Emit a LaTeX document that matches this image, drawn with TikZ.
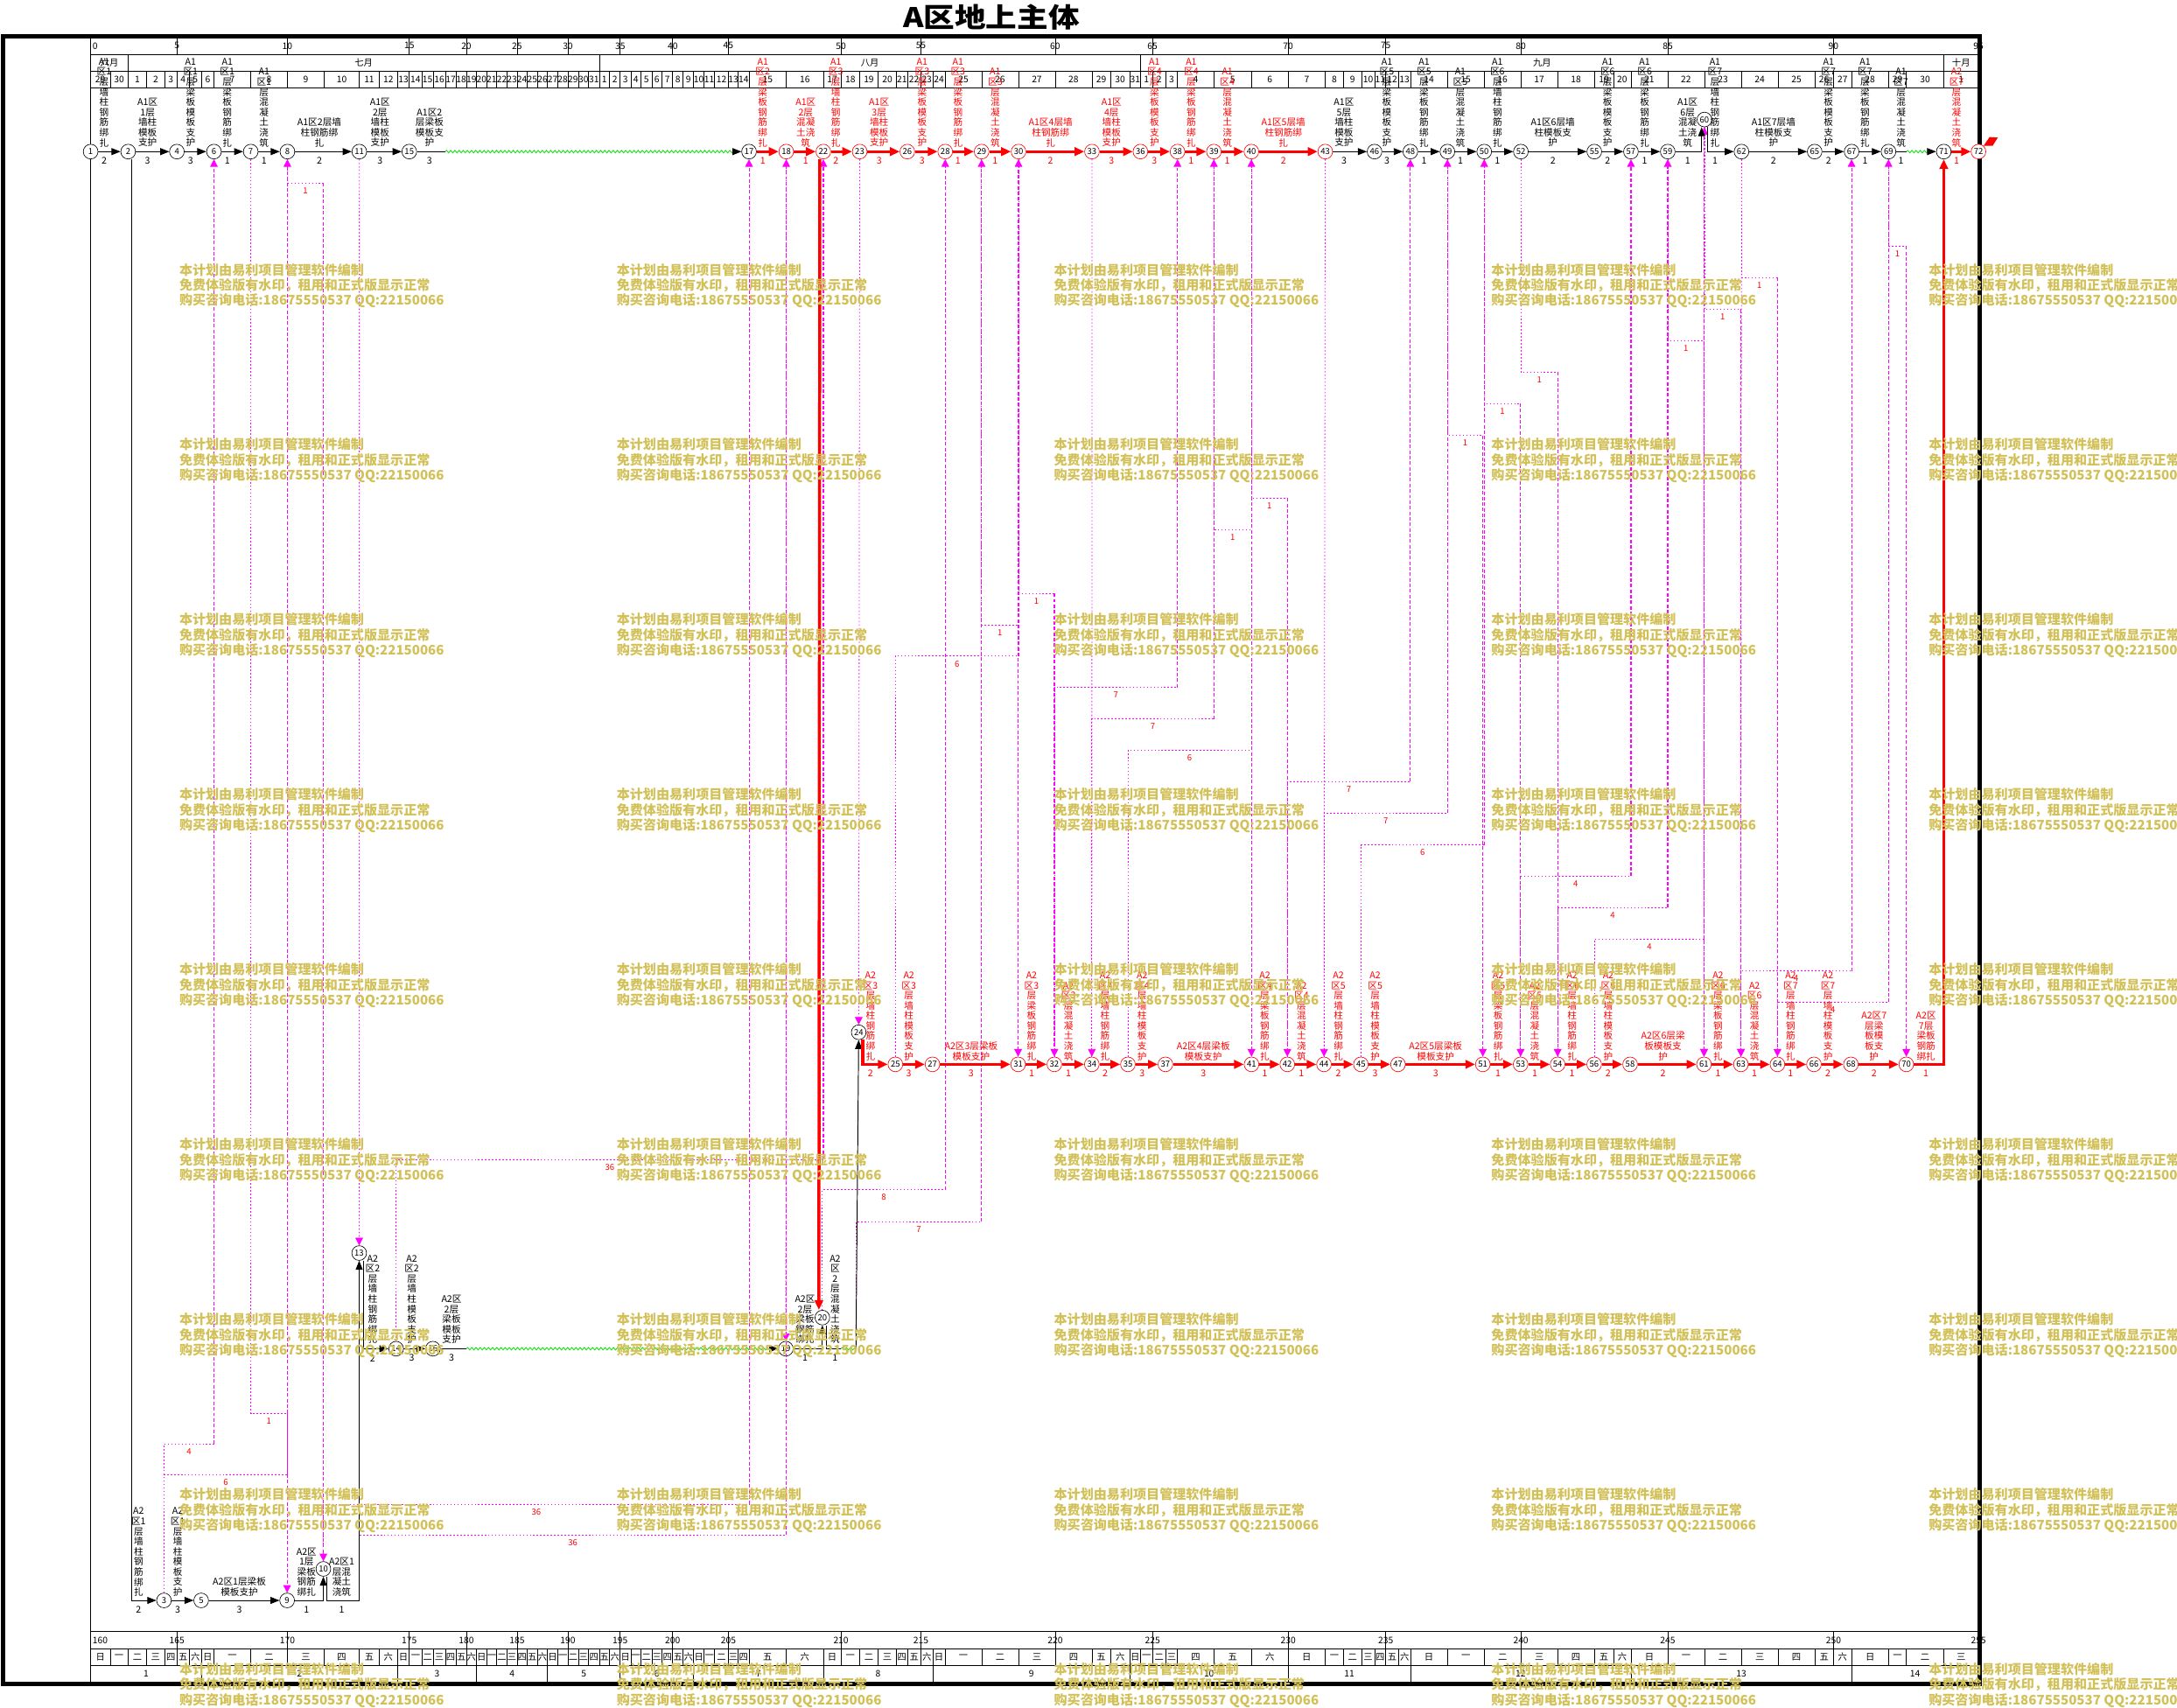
\documentclass[tikz,border=0pt]{standalone}
\usepackage{fontspec}
\setmainfont{Noto Sans CJK SC}
\usetikzlibrary{arrows.meta,decorations.pathmorphing,calc}
\definecolor{wmark}{RGB}{210,192,88}
\definecolor{linkc}{RGB}{255,0,255}
\definecolor{floatc}{RGB}{0,225,0}
% stacked labels, one sign per line
\newcommand{\wallrebar}[2]{A#1\\区#2\\层\\墙\\柱\\钢\\筋\\绑\\扎}
\newcommand{\wallform}[2]{A#1\\区#2\\层\\墙\\柱\\模\\板\\支\\护}
\newcommand{\slabform}[2]{A#1\\区#2\\层\\梁\\板\\模\\板\\支\\护}
\newcommand{\slabrebar}[2]{A#1\\区#2\\层\\梁\\板\\钢\\筋\\绑\\扎}
\newcommand{\concrete}[2]{A#1\\区#2\\层\\混\\凝\\土\\浇\\筑}
\newcommand{\wkname}[1]{\ifcase#1 日\or 一\or 二\or 三\or 四\or 五\or 六\fi}
\newcommand{\wmtext}{本计划由易利项目管理软件编制\\免费体验版有水印，租用和正式版显示正常\\购买咨询电话:18675550537 QQ:22150066}
% logic link: from event #1 via level #2 to event #3, lag #4
\newcommand{\lnk}[4]{
	\draw[srcl] (n#1) -- (n#1 |- 0,#2) -- (n#3 |- 0,#2) node[lag,midway,yshift=-5.5pt] {#4};
	\draw[tgtl] (n#3 |- 0,#2) -- (n#3);
}
\newcommand{\lnkz}[2]{\draw[srcl,-{Triangle[length=5.5pt,width=5.5pt]}] (n#1) -- (n#2);}
\def\dx{{65.3,79.3,92.3,105.5,118.7,127.4,136.4,145.1,154.1,180.6,
207.0,233.5,258.8,273.1,286.4,294.8,303.8,312.2,320.7,328.6,
335.9,343.2,350.5,357.8,365.1,372.4,379.7,387.1,394.4,401.7,
409.0,416.5,424.0,431.6,439.1,446.7,454.3,461.8,469.4,476.9,
484.5,492.0,499.6,507.1,514.7,524.6,531.7,539.5,566.3,593.0,
605.7,619.2,632.4,645.7,653.5,663.3,671.8,680.8,707.0,733.6,
760.0,786.5,799.8,813.8,821.4,830.1,839.7,848.1,874.3,901.3,
927.8,954.5,967.7,980.7,990.0,998.1,1007.4,1015.8,1042.5,1069.0,
1095.4,1121.9,1148.3,1162.1,1174.7,1201.2,1227.6,1254.3,1280.7,1307.0,
1320.6,1333.6,1360.2,1373.1,1400.0,1425.0}}
\def\yA{109.2}
\def\yC{766.6}
\def\yD{971.4}
\def\yE{1152.7}

\begin{document}
\begin{tikzpicture}[x=1pt,y=-1pt,
	evt/.style={circle,draw,fill=white,inner sep=0pt,minimum size=10.6pt,font=\fontsize{6}{6}\selectfont},
	evr/.style={evt,draw=red},
	act/.style={line width=0.6pt,-{Triangle[length=6.5pt,width=5pt]}},
	cact/.style={red,line width=2.2pt,-{Triangle[length=7pt,width=6pt]}},
	wavy/.style={floatc,line width=0.5pt,decorate,decoration={snake,amplitude=0.9pt,segment length=3pt}},
	srcl/.style={linkc,line width=0.5pt,dash pattern=on 1pt off 1.5pt},
	tgtl/.style={linkc,line width=0.7pt,dash pattern=on 2.5pt off 1.5pt,-{Triangle[length=5.5pt,width=5.5pt]}},
	vlab/.style={font=\fontsize{6.7}{7.3}\selectfont,align=center,inner sep=0pt,anchor=south},
	dlab/.style={font=\fontsize{6.7}{7}\selectfont,inner sep=0pt},
	hdr/.style={font=\fontsize{6.5}{6.5}\selectfont,inner sep=0pt},
	lag/.style={red,font=\fontsize{6}{6}\selectfont,inner sep=0pt},
	wm/.style={wmark,font=\fontsize{9.5}{11}\selectfont\bfseries,align=left,inner sep=0pt,anchor=north west}]
	\useasboundingbox (0,0) rectangle (1568,1230);

	\node[font=\fontsize{19.5}{19.5}\selectfont\bfseries] (title) at (714,12.5) {\scalebox{1.15}[1]{A区地上主体}};

	% frame and time scales
	\draw[line width=3pt] (2.3,26.2) rectangle (1425.8,1213);
	\draw (65.3,26.2) -- (65.3,1213);
	\foreach \yy in {39.3,51.2,63,1175.2,1187.4,1199.3}
		\draw (65.3,\yy) -- (1425,\yy);
	\foreach \i in {0,...,95}{
		\pgfmathsetmacro\xa{\dx[\i]}
		\draw (\xa,51.2) -- (\xa,63);
		\draw (\xa,1187.4) -- (\xa,1199.3);
	}
	\foreach \i in {0,...,94}{
		\pgfmathsetmacro\xa{\dx[\i]}
		\pgfmathsetmacro\xb{\dx[\i+1]}
		\pgfmathtruncatemacro\dd{ifthenelse(\i<2,29+\i,ifthenelse(\i<33,\i-1,ifthenelse(\i<64,\i-32,ifthenelse(\i<94,\i-63,\i-93))))}
		\pgfmathtruncatemacro\wkd{mod(\i,7)}
		\node[hdr] at ({(\xa+\xb)/2},57.1) {\dd};
		\node[hdr] at ({(\xa+\xb)/2},1193.3) {\wkname{\wkd}};
	}
	\foreach \tk in {5,10,...,95}{
		\pgfmathsetmacro\xa{\dx[\tk]}
		\pgfmathtruncatemacro\tb{\tk+160}
		\draw (\xa,26.2) -- (\xa,39.3);
		\draw (\xa,1175.2) -- (\xa,1187.4);
		\node[hdr] at (\xa,33) {\tk};
		\node[hdr] at (\xa,1181.3) {\tb};
	}
	\node[hdr,anchor=west] at (66.5,33) {0};
	\node[hdr,anchor=west] at (66.5,1181.3) {160};
	\foreach \w in {0,...,13}{
		\pgfmathtruncatemacro\da{7*\w}
		\pgfmathtruncatemacro\db{min(7*\w+7,95)}
		\pgfmathtruncatemacro\wn{\w+1}
		\pgfmathsetmacro\xa{\dx[\da]}
		\pgfmathsetmacro\xb{\dx[\db]}
		\draw (\xa,1199.3) -- (\xa,1213);
		\node[hdr] at ({(\xa+\xb)/2},1205.5) {\wn};
	}
	\foreach \xm in {92.3,431.6,821.4,1400}
		\draw (\xm,39.3) -- (\xm,51.2);
	\foreach \xm/\mo in {78.8/六月,262/七月,626.5/八月,1110.7/九月,1412.5/十月}
		\node[hdr] at (\xm,45.2) {\mo};

	% events
	\foreach \n/\x in {1/65.3,2/92.3,4/127.4,6/154.1,7/180.6,8/207,11/258.8,15/294.8,17/539.5,
		46/990,48/1015.8,49/1042.5,50/1069,52/1095.4,55/1148.3,57/1174.7,59/1201.2,
		62/1254.3,65/1307,67/1333.6,69/1360.2,71/1400}
		\node[evt] (n\n) at (\x,\yA) {\n};
	\foreach \n/\x in {18/566.3,22/593,23/619.2,26/653.5,28/680.8,29/707,30/733.6,33/786.5,
		36/821.4,38/848.1,39/874.3,40/901.3,43/954.5,72/1425}
		\node[evr] (n\n) at (\x,\yA) {\n};
	\node[evt] (n60) at (1227.6,86.1) {60};
	\node[evt] (n24) at (618.5,743.5) {24};
	\foreach \n/\x in {25/644.9,27/671.6,31/733.3,32/759.4,34/786.4,35/812.4,37/839.4,41/901.4,
		42/927.2,44/953.6,45/980.2,47/1006.9,51/1068,53/1095.2,54/1121.9,56/1148.2,58/1174.1,
		61/1227.3,63/1253.9,64/1280.2,66/1306.5,68/1333.1,70/1373}
		\node[evr] (n\n) at (\x,\yC) {\n};
	\node[evt] (n13) at (258.7,902.5) {13};
	\foreach \n/\x in {14/285.3,16/311.8,19/566}
		\node[evt] (n\n) at (\x,\yD) {\n};
	\node[evt] (n20) at (592.3,949) {20};
	\foreach \n/\x in {3/118.1,5/144.9,9/206.8}
		\node[evt] (n\n) at (\x,\yE) {\n};
	\node[evt] (n10) at (232.9,1130) {10};
	\coordinate (n12) at (258.8,\yE);
	\coordinate (n21) at (616.5,\yD);

	% logic links
	\lnk{3}{1040}{6}{4}
	\lnk{3}{1062}{8}{6}
	\lnk{7}{1018}{9}{1}
	\lnk{8}{132}{10}{1}
	\lnkz{11}{13}
	\lnk{10}{1083.5}{17}{36}
	\lnk{12}{1105.5}{18}{36}
	\lnk{14}{835}{22}{36}
	\lnkz{18}{19}
	\lnk{20}{857}{28}{8}
	\lnk{21}{880}{29}{7}
	\lnkz{23}{24}
	\lnk{25}{472.6}{30}{6}
	\lnk{29}{450}{31}{1}
	\lnk{30}{427.4}{32}{1}
	\lnk{32}{495.2}{38}{7}
	\lnkz{33}{34}
	\lnk{34}{517.8}{39}{7}
	\lnk{35}{540.3}{40}{6}
	\lnk{39}{381.8}{41}{1}
	\lnk{40}{358.8}{42}{1}
	\lnk{42}{562.9}{48}{7}
	\lnkz{43}{44}
	\lnk{44}{585.5}{49}{7}
	\lnk{45}{608.5}{50}{6}
	\lnk{49}{313.7}{51}{1}
	\lnk{50}{290.6}{53}{1}
	\lnk{52}{268.1}{54}{1}
	\lnk{53}{631.1}{57}{4}
	\lnk{54}{653.7}{59}{4}
	\lnk{56}{676.7}{60}{4}
	\lnk{59}{245.5}{61}{1}
	\lnkz{60}{61}
	\lnk{60}{222.9}{63}{1}
	\lnk{62}{199.9}{64}{1}
	\lnkz{62}{63}
	\lnk{63}{699.3}{67}{4}
	\lnk{64}{721.8}{69}{4}
	\lnk{69}{177.3}{70}{1}

	% works, zone A1
	\foreach \a/\b in {1/2,2/4,4/6,6/7,7/8,8/11,11/15,43/46,46/48,48/49,49/50,50/52,52/55,55/57,57/59,62/65,65/67,67/69}
		\draw[act] (n\a) -- (n\b);
	\foreach \a/\b in {17/18,18/22,22/23,23/26,26/28,28/29,29/30,30/33,33/36,36/38,38/39,39/40,40/43,71/72}
		\draw[cact] (n\a) -- (n\b);
	\draw (n15) -- (320.7,\yA);
	\draw[wavy] (320.7,\yA) -- (531,\yA);
	\draw[act] (531,\yA) -- (n17);
	\draw (n69) -- (1373.1,\yA);
	\draw[wavy] (1373.1,\yA) -- (1391,\yA);
	\draw[act] (1391,\yA) -- (n71);
	\draw[act] (n59) -| ($(n60.south)+(-2,0)$);
	\draw[act] ($(n60.south)+(2.5,0)$) |- (n62);
	\draw[red,line width=1pt] (n72) -- (1428.7,105);
	\fill[red] (1428.7,105) -- (1433,98.7) -- (1438.9,99.1) -- (1435.2,105) -- cycle;

	% works, zone A2
	\draw[act] ($(n2.south)+(2.5,0)$) |- (n3);
	\draw[act] (n3) -- (n5);
	\draw[act] (n5) -- (n9);
	\draw[act] (n9) -| (n10);
	\draw[act] ($(n10.south)+(2.5,0)$) |- (n13|-n9) -- (n13);
	\draw[act] ($(n13.south)+(3,0)$) |- (n14);
	\draw[act] (n14) -- (n16);
	\draw (n16) -- (335.9,\yD);
	\draw[wavy] (335.9,\yD) -- (557,\yD);
	\draw[act] (557,\yD) -- (n19);
	\draw[act] (n19) -| (n20);
	\draw[cact] ($(n22.south)+(-2.5,0)$) -- ($(n20.north)+(-2.5,0)$);
	\draw ($(n20.south)+(3,0)$) |- (605.7,\yD);
	\draw[wavy] (605.7,\yD) -- (n21);
	\draw[act] (n21) -- (n24);
	\draw[cact] ($(n24.south)+(3,0)$) |- (n25);
	\foreach \a/\b in {25/27,27/31,31/32,32/34,34/35,35/37,37/41,41/42,42/44,44/45,45/47,47/51,
		51/53,53/54,54/56,56/58,58/61,61/63,63/64,64/66,66/68,68/70}
		\draw[cact] (n\a) -- (n\b);
	\draw[cact] (n70) -| (n71);

	% work names and durations
	\foreach \x/\lb/\du in {75/{\wallrebar{1}{1}}/2,106.3/{A1区\\1层\\墙柱\\模板\\支护}/3,
		137.3/{\slabform{1}{1}}/3,163.7/{\slabrebar{1}{1}}/1,190.2/{\concrete{1}{1}}/1,
		230/{A1区2层墙\\柱钢筋绑\\扎}/2,273.7/{A1区\\2层\\墙柱\\模板\\支护}/3,
		309.4/{A1区2\\层梁板\\模板支\\护}/3,968/{A1区\\5层\\墙柱\\模板\\支护}/3,
		998.9/{\slabform{1}{5}}/3,1025.7/{\slabrebar{1}{5}}/1,1051.8/{\concrete{1}{5}}/1,
		1078.5/{\wallrebar{1}{6}}/1,1118.5/{A1区6层墙\\柱模板支\\护}/2,1157.9/{\slabform{1}{6}}/2,
		1184.6/{\slabrebar{1}{6}}/1,1215.5/{A1区\\6层\\混凝\\土浇\\筑}/1,1235.2/{\wallrebar{1}{7}}/1,
		1277.4/{A1区7层墙\\柱模板支\\护}/2,1317/{\slabform{1}{7}}/2,1343.3/{\slabrebar{1}{7}}/1,
		1369.2/{\concrete{1}{7}}/1}
		{\node[vlab] at (\x,106) {\lb}; \node[dlab] at (\x,115.6) {\du};}
	\foreach \x/\lb/\du in {549.4/{\slabrebar{1}{2}}/1,580.3/{A1区\\2层\\混凝\\土浇\\筑}/1,
		602/{\wallrebar{1}{3}}/2,633.2/{A1区\\3层\\墙柱\\模板\\支护}/3,664.2/{\slabform{1}{3}}/3,
		690/{\slabrebar{1}{3}}/1,716.8/{\concrete{1}{3}}/1,756.7/{A1区4层墙\\柱钢筋绑\\扎}/2,
		800.6/{A1区\\4层\\墙柱\\模板\\支护}/3,831.5/{\slabform{1}{4}}/3,858/{\slabrebar{1}{4}}/1,
		884/{\concrete{1}{4}}/1,924.4/{A1区5层墙\\柱钢筋绑\\扎}/2,1409.2/{\concrete{2}{7}}/1}
		{\node[vlab,red] at (\x,106) {\lb}; \node[dlab,red] at (\x,115.6) {\du};}
	\foreach \x/\lb/\du in {627/{\wallrebar{2}{3}}/2,654.6/{\wallform{2}{3}}/3,
		699.5/{A2区3层梁板\\模板支护}/3,743/{\slabrebar{2}{3}}/1,769.6/{\concrete{2}{3}}/1,
		796/{\wallrebar{2}{4}}/2,822.6/{\wallform{2}{4}}/3,866.7/{A2区4层梁板\\模板支护}/3,
		911/{\slabrebar{2}{4}}/1,937.4/{\concrete{2}{4}}/1,964/{\wallrebar{2}{5}}/2,
		990.5/{\wallform{2}{5}}/3,1034/{A2区5层梁板\\模板支护}/3,1079/{\slabrebar{2}{5}}/1,
		1105.4/{\concrete{2}{5}}/1,1132.3/{\wallrebar{2}{6}}/1,1158.3/{\wallform{2}{6}}/2,
		1197.8/{A2区6层梁\\板模板支\\护}/2,1237.4/{\slabrebar{2}{6}}/1,1263.7/{\concrete{2}{6}}/1,
		1289.7/{\wallrebar{2}{7}}/1,1316.6/{\wallform{2}{7}}/2,1349.8/{A2区7\\层梁\\板模\\板支\\护}/2,
		1387.2/{A2区\\7层\\梁板\\钢筋\\绑扎}/1}
		{\node[vlab,red] at (\x,764) {\lb}; \node[dlab,red] at (\x,773.2) {\du};}
	\foreach \x/\lb/\du in {268.4/{\wallrebar{2}{2}}/2,296.6/{\wallform{2}{2}}/3,
		325.2/{A2区\\2层\\梁板\\模板\\支护}/3,579.8/{A2区\\2层\\梁板\\钢筋\\绑扎}/1,
		601.5/{A2\\区\\2\\层\\混\\凝\\土\\浇\\筑}/1}
		{\node[vlab] at (\x,968) {\lb}; \node[dlab] at (\x,978.2) {\du};}
	\foreach \x/\lb/\du in {99.8/{\wallrebar{2}{1}}/2,128/{\wallform{2}{1}}/3,
		172.4/{A2区1层梁板\\模板支护}/3,220.8/{A2区\\1层\\梁板\\钢筋\\绑扎}/1,
		246.1/{A2区1\\层混\\凝土\\浇筑}/1}
		{\node[vlab] at (\x,1150) {\lb}; \node[dlab] at (\x,1159.2) {\du};}

	% watermark
	\foreach \wx in {129,444,759,1074,1389}
		\foreach \wy in {195,321,447,573,699,825,951,1077,1203}
			\node[wm] at (\wx,\wy-5.5) {\wmtext};
\end{tikzpicture}
\end{document}
